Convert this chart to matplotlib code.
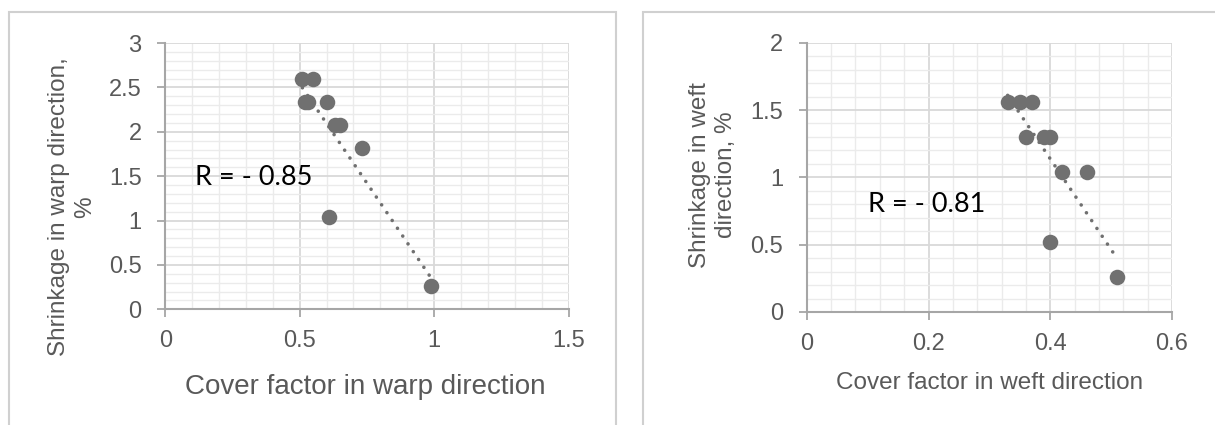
import numpy as np
import matplotlib.pyplot as plt
from matplotlib.ticker import MultipleLocator
from matplotlib.patches import Rectangle

# warp direction data
warp_cover = [0.51, 0.55, 0.52, 0.53, 0.60, 0.63, 0.65, 0.73, 0.61, 0.99]
warp_shrink = [2.6, 2.6, 2.34, 2.34, 2.34, 2.08, 2.08, 1.82, 1.04, 0.26]

# weft direction data
weft_cover = [0.33, 0.35, 0.37, 0.36, 0.39, 0.40, 0.42, 0.46, 0.40, 0.51]
weft_shrink = [1.56, 1.56, 1.56, 1.30, 1.30, 1.30, 1.04, 1.04, 0.52, 0.26]

warp_r = "R = - 0.85"
weft_r = "R = - 0.81"

gray_font = ['Liberation Sans', 'DejaVu Sans']
r_font = ['Lato', 'DejaVu Sans']
txt_color = '#595959'
dot_color = '#707070'

plt.rcParams['font.family'] = gray_font

W, H = 1215, 425
fig = plt.figure(figsize=(W / 100, H / 100), dpi=100)


def px_box(x0, x1, y0, y1):
    return [x0 / W, 1 - y1 / H, (x1 - x0) / W, (y1 - y0) / H]


def style_axes(ax, xmax, ymax, xmajor, xminor, ymajor, yminor):
    ax.set_xlim(0, xmax)
    ax.set_ylim(0, ymax)
    ax.xaxis.set_major_locator(MultipleLocator(xmajor))
    ax.xaxis.set_minor_locator(MultipleLocator(xminor))
    ax.yaxis.set_major_locator(MultipleLocator(ymajor))
    ax.yaxis.set_minor_locator(MultipleLocator(yminor))
    ax.xaxis.set_major_formatter(lambda v, p: f"{v:g}")
    ax.yaxis.set_major_formatter(lambda v, p: f"{v:g}")
    ax.grid(which='major', color='#d9d9d9', lw=1.3, zorder=0)
    ax.grid(which='minor', color='#ebebeb', lw=1.0, zorder=0)
    ax.set_axisbelow(True)
    for s in ['top', 'right']:
        ax.spines[s].set_visible(False)
    for s in ['left', 'bottom']:
        ax.spines[s].set_color('#a6a6a6')
        ax.spines[s].set_linewidth(1.5)
    ax.tick_params(which='major', direction='out', length=6, width=1.3,
                   color='#a6a6a6', labelsize=17, labelcolor=txt_color)
    ax.tick_params(axis='y', pad=11)
    ax.tick_params(axis='x', pad=9)
    ax.tick_params(which='minor', length=0)


def draw(ax, x, y, rtext, rx, ry):
    ax.scatter(x, y, s=125, color=dot_color, zorder=3, linewidths=0)
    k, b = np.polyfit(x, y, 1)
    xs = np.array([min(x), max(x)])
    ax.plot(xs, k * xs + b, color=dot_color, lw=2.6,
            linestyle=(0, (0.01, 2.6)), dash_capstyle='round', zorder=2)
    ax.text(rx, ry, rtext, fontsize=19.5, family=r_font, color='black',
            va='center', ha='left', zorder=4)


# left chart
ax1 = fig.add_axes(px_box(165.3, 568.5, 43, 309.3))
style_axes(ax1, 1.5, 3, 0.5, 0.1, 0.5, 0.1)
draw(ax1, warp_cover, warp_shrink, warp_r, 0.11, 1.48)

# right chart
ax2 = fig.add_axes(px_box(806.8, 1172, 42.7, 312))
style_axes(ax2, 0.6, 2, 0.2, 0.04, 0.5, 0.1)
draw(ax2, weft_cover, weft_shrink, weft_r, 0.1, 0.8)

fig.text(72 / W, 1 - 207 / H, "Shrinkage in warp direction,\n%", rotation=90,
         ha='center', va='center', multialignment='center',
         fontsize=17.5, color=txt_color)
fig.text(365.5 / W, 1 - 387 / H, "Cover factor in warp direction",
         ha='center', va='center', fontsize=20, color=txt_color)
fig.text(713 / W, 1 - 175 / H, "Shrinkage in weft\ndirection, %", rotation=90,
         ha='center', va='center', multialignment='center',
         fontsize=17.5, color=txt_color)
fig.text(989.5 / W, 1 - 383 / H, "Cover factor in weft direction",
         ha='center', va='center', fontsize=17.5, color=txt_color)

# chart area borders
fig.add_artist(Rectangle((8.5 / W, -0.1), (616 - 8.5) / W, 1.1 - 12 / H,
                         transform=fig.transFigure, fill=False,
                         ec='#d0d0d0', lw=1.5))
fig.add_artist(Rectangle((643 / W, -0.1), 0.5, 1.1 - 12 / H,
                         transform=fig.transFigure, fill=False,
                         ec='#d0d0d0', lw=1.5))

fig.savefig('out.png', dpi=100)
